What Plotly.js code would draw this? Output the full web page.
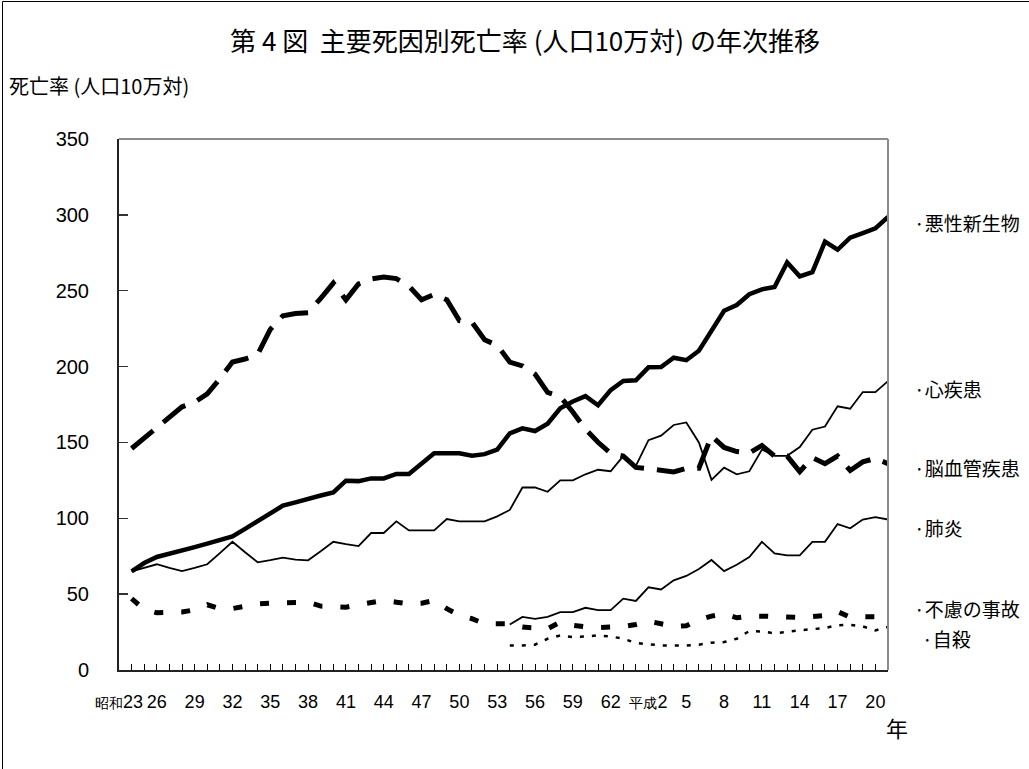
<!DOCTYPE html>
<html>
<head>
<meta charset="utf-8">
<script src="https://cdn.plot.ly/plotly-3.0.1.min.js"></script>
<style>
  html, body { margin: 0; padding: 0; background: #fff; }
  #chart { width: 1029px; height: 769px; }
</style>
</head>
<body>
<div id="chart"></div>
<script>
// Years (昭和23 = 1948 … 平成20 = 2008)
const years = [1948,1949,1950,1951,1952,1953,1954,1955,1956,1957,1958,1959,1960,1961,1962,1963,1964,1965,1966,1967,
  1968,1969,1970,1971,1972,1973,1974,1975,1976,1977,1978,1979,1980,1981,1982,1983,1984,1985,1986,1987,
  1988,1989,1990,1991,1992,1993,1994,1995,1996,1997,1998,1999,2000,2001,2002,2003,2004,2005,2006,2007,2008];

// Tick labels, one every third tick starting at the axis origin
const xTickLabels = ['昭和23','26','29','32','35','38','41','44','47','50','53','56','59','62','平成2','5','8','11','14','17','20'];

// 悪性新生物
const cancer = [65,70.5,74.5,76.5,78.5,81,83.3,85.6,88,93,98,103,108.3,110.5,113,115,117,124.8,124.5,126.3,
  126.3,129.2,129.2,136,142.8,142.8,142.8,141.2,142.3,145.3,156,159.3,157.5,162.3,172.5,177,180.5,174.5,184.5,190.5,
  191,199.5,199.7,205.8,204.2,210.4,223.6,236.8,240.6,247.7,250.9,252.5,268.6,259.5,262.2,282.3,277,285,288,291.1,298.6];

// 心疾患
const heart = [65,67.3,69.7,67.3,65.2,67.3,69.7,77,84.5,77.6,71,72.4,74,72.8,72.3,78.3,84.5,83,81.7,90.3,
  90.3,98,92,92,92,99.5,98,98,98,101.3,105.5,120.3,120.3,117.5,125,125,129,132,131,141,
  134.5,151.5,154.5,161.5,163.2,150,125.3,133.4,129,131,145.3,141.2,141.2,147,158.4,160.5,173.8,172.2,183.2,183.2,190.4];

// 脳血管疾患
const cerebro = [146,153,160,167,173.5,176.5,182,192,203,205,208,224.5,233.5,235,235.5,245,255,244,254.5,257.7,
  259,258,253,244,247.5,244,230.3,229.2,217.7,214,203,200.4,195,183,180.3,170.1,158.7,150.1,142.8,141,
  133.5,132.6,131.5,130.6,133,133,154.3,146.7,144,143,148,141,141,130.8,140,136,141,131.5,137.2,139.5,136];

// 肺炎 (from 1978)
const pneumonia = [null,null,null,null,null,null,null,null,null,null,null,null,null,null,null,null,null,null,null,null,
  null,null,null,null,null,null,null,null,null,null,30,35,33.7,35,38.2,38.2,41,39.5,39.5,47,
  45.5,54.5,53.1,59.1,62,66.6,72.5,65.2,69.4,74.5,84.5,76.9,75.5,75.5,84.5,84.5,96.2,93.4,99.2,100.7,99.2];

// 不慮の事故
const accident = [47,40,37.7,37.7,38.2,39.7,43,40.4,40.5,42,43.6,44.1,44.1,44.1,44.7,42.1,42.1,41.4,43,44.3,
  45.8,44.7,43.6,44,45.8,40.4,36,33.8,30.5,30.5,30.5,28.3,27.9,27.2,31.6,29.4,28.5,27.9,28.3,28.7,
  30,32.2,30.5,28.7,29.2,33.1,35.5,37,34.4,35.5,35.5,35.2,35.2,34.6,35.2,36,38.5,34.9,35.2,34.8,35];

// 自殺 (from 1978)
const suicide = [null,null,null,null,null,null,null,null,null,null,null,null,null,null,null,null,null,null,null,null,
  null,null,null,null,null,null,null,null,null,null,16.2,16.2,16.7,20.6,22.8,21.7,22.1,22.8,22.1,20.6,
  17.8,16.9,16.2,16.2,16.2,16.7,18,18.4,20.6,25.7,25.4,24.2,25.3,26.2,26.9,27.7,29.5,29.8,28.7,26.1,28.4];

const seriesNames = ['悪性新生物','心疾患','脳血管疾患','肺炎','不慮の事故','自殺'];

const originYear = years[0] - 1;
const tickVals = [originYear].concat(years);
// Era names are drawn narrower than the digits, as in the original
const fmtTick = s => s.replace(/^([^\d]+)/, '<span style="font-size:14px">$1</span>');
const tickText = tickVals.map((y, i) => (i % 3 === 0 && xTickLabels[i / 3] ? fmtTick(xTickLabels[i / 3]) : ''));

const jp = '"Noto Sans CJK JP", "Noto Sans", sans-serif';
const num = '"Liberation Sans", Arial, sans-serif';

function tr(y, name, width, dash) {
  return {
    x: years, y: y, name: name, type: 'scatter', mode: 'lines',
    line: { color: '#000', width: width, dash: dash },
    connectgaps: false, hoverinfo: 'x+y+name'
  };
}

const data = [
  tr(cerebro, seriesNames[2], 5, '28px,13px'),
  tr(accident, seriesNames[4], 5, '9px,18px'),
  tr(suicide, seriesNames[5], 2.5, '4px,8px'),
  tr(pneumonia, seriesNames[3], 1.8, 'solid'),
  tr(heart, seriesNames[1], 1.8, 'solid'),
  tr(cancer, seriesNames[0], 4.5, 'solid')
];

const W = 1029, H = 769, L = 119, R = 888, T = 139, B = 670;
const pw = R - L, ph = B - T;
const px = v => (v - L) / pw;
const py = v => (B - v) / ph;

const labelFont = { family: jp, size: 19, color: '#000' };
const legendPos = [
  [seriesNames[0], 913, 222],
  [seriesNames[1], 913, 388],
  [seriesNames[2], 913, 467],
  [seriesNames[3], 913, 527],
  [seriesNames[4], 913, 608],
  [seriesNames[5], 921, 638]
];

const annotations = legendPos.map(([t, x, y]) => ({
  text: '·' + t, xref: 'paper', yref: 'paper', x: px(x), y: py(y),
  xanchor: 'left', yanchor: 'middle', showarrow: false, font: labelFont,
  borderpad: 0
}));
annotations.push({
  text: '死亡率 (人口10万対)', xref: 'paper', yref: 'paper', x: px(7), y: py(85),
  xanchor: 'left', yanchor: 'middle', showarrow: false, font: { family: jp, size: 20, color: '#000' }
});
annotations.push({
  text: '年', xref: 'paper', yref: 'paper', x: px(897), y: py(727),
  xanchor: 'center', yanchor: 'middle', showarrow: false, font: { family: jp, size: 22, color: '#000' }
});

const layout = {
  width: W, height: H,
  margin: { l: L, r: W - R, t: T, b: H - B, pad: 0 },
  paper_bgcolor: '#fff', plot_bgcolor: '#fff',
  showlegend: false,
  title: {
    text: '第 4 図  主要死因別死亡率 (人口10万対) の年次推移',
    xref: 'container', yref: 'container', x: 525 / W, y: 1 - 42 / H,
    xanchor: 'center', yanchor: 'middle',
    font: { family: jp, size: 26, color: '#000' }
  },
  xaxis: {
    range: [originYear, years[years.length - 1]],
    tickmode: 'array', tickvals: tickVals, ticktext: tickText,
    tickangle: 0,
    ticks: 'inside', ticklen: 6, tickwidth: 1, tickcolor: '#000',
    showline: true, linecolor: '#222', linewidth: 2,
    showgrid: false, zeroline: false,
    tickfont: { family: num, size: 18, color: '#000' },
    ticklabelstandoff: 14, fixedrange: true
  },
  yaxis: {
    range: [0, 350], tickmode: 'linear', tick0: 0, dtick: 50,
    ticks: 'inside', ticklen: 9, tickwidth: 1.5, tickcolor: '#333',
    showline: true, linecolor: '#222', linewidth: 2,
    showgrid: false, zeroline: false,
    tickfont: { family: num, size: 20, color: '#000' },
    ticklabelstandoff: 24, fixedrange: true
  },
  annotations: annotations,
  shapes: [
    { type: 'line', xref: 'paper', yref: 'paper', x0: 0, x1: 1, y0: 1, y1: 1, line: { color: '#8c8c8c', width: 2 } },
    { type: 'line', xref: 'paper', yref: 'paper', x0: 1, x1: 1, y0: 0, y1: 1, line: { color: '#8c8c8c', width: 2 } },
    { type: 'line', xref: 'paper', yref: 'paper', x0: px(2.5), x1: px(2.5), y0: py(H + 5), y1: py(1.5), line: { color: '#000', width: 1 } },
    { type: 'line', xref: 'paper', yref: 'paper', x0: px(2.5), x1: px(W + 5), y0: py(1.5), y1: py(1.5), line: { color: '#000', width: 1 } }
  ]
};

Plotly.newPlot('chart', data, layout, { displayModeBar: false, staticPlot: true });
</script>
</body>
</html>
